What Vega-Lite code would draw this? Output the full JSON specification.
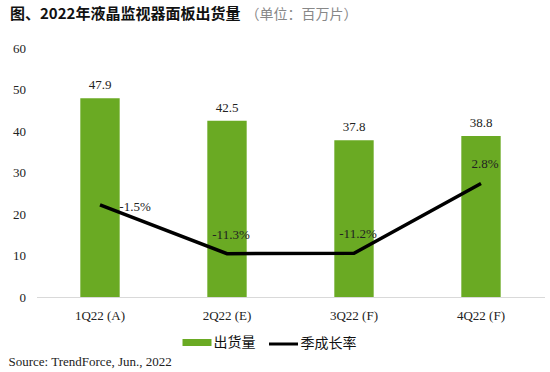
{
  "$schema": "https://vega.github.io/schema/vega-lite/v6.json",
  "width": 508,
  "height": 249,
  "autosize": {"type": "none"},
  "padding": {"left": 36.5, "top": 48, "right": 5.5, "bottom": 75},
  "background": "white",
  "config": {
    "view": {"stroke": null},
    "locale": {"number": {"decimal": ".", "thousands": ",", "grouping": [3], "currency": ["$", ""], "minus": "-"}}
  },
  "title": {
    "text": "图、2022年液晶监视器面板出货量",
    "anchor": "start",
    "frame": "group",
    "dx": -26.5,
    "offset": -22,
    "baseline": "middle",
    "font": "Noto Sans CJK SC",
    "fontSize": 15,
    "fontWeight": "bold",
    "color": "#111"
  },
  "data": {
    "values": [
      {"q": "1Q22 (A)", "shipment": 47.9, "growth": -0.015},
      {"q": "2Q22 (E)", "shipment": 42.5, "growth": -0.113},
      {"q": "3Q22 (F)", "shipment": 37.8, "growth": -0.112},
      {"q": "4Q22 (F)", "shipment": 38.8, "growth": 0.028}
    ]
  },
  "encoding": {
    "x": {
      "field": "q",
      "type": "nominal",
      "sort": null,
      "scale": {"paddingInner": 0.69, "paddingOuter": 0.345},
      "axis": {
        "title": "Source: TrendForce, Jun., 2022",
        "titleFont": "Liberation Serif",
        "titleFontSize": 13,
        "titleFontWeight": "normal",
        "titleColor": "#222",
        "titleAlign": "left",
        "titleBaseline": "middle",
        "titleAnchor": "start",
        "titleX": -28.5,
        "titleY": 64,
        "labelAngle": 0,
        "labelFont": "Liberation Serif",
        "labelFontSize": 13,
        "labelColor": "#222",
        "labelPadding": 12,
        "ticks": false,
        "domainColor": "#d9d9d9",
        "domainWidth": 1
      }
    }
  },
  "layer": [
    {
      "encoding": {
        "y": {
          "field": "shipment",
          "type": "quantitative",
          "scale": {"domain": [0, 60]},
          "axis": {
            "values": [0, 10, 20, 30, 40, 50, 60],
            "title": "（单位：百万片）",
            "titleAngle": 0,
            "titleAlign": "left",
            "titleBaseline": "middle",
            "titleX": 208.5,
            "titleY": -34,
            "titleFont": "Noto Sans CJK SC",
            "titleFontSize": 14,
            "titleFontWeight": "normal",
            "titleColor": "#888",
            "grid": false,
            "domain": false,
            "ticks": false,
            "labelFont": "Liberation Serif",
            "labelFontSize": 13,
            "labelColor": "#222",
            "labelPadding": 11
          }
        }
      },
      "layer": [
        {
          "mark": {"type": "bar", "color": "#6aaa23"},
          "encoding": {
            "fill": {
              "datum": "出货量",
              "type": "nominal",
              "scale": {"range": ["#6aaa23"]},
              "legend": {
                "orient": "none",
                "legendX": 146,
                "legendY": 280,
                "title": null,
                "padding": 0,
                "symbolType": "M-1,-0.24H1V0.24H-1Z",
                "symbolSize": 841,
                "symbolStrokeWidth": 0,
                "labelFont": "Noto Sans CJK SC",
                "labelFontSize": 14,
                "labelColor": "#111",
                "labelOffset": 2
              }
            }
          }
        },
        {
          "mark": {"type": "text", "dy": -13, "font": "Liberation Serif", "fontSize": 13, "color": "#222"},
          "encoding": {
            "text": {"field": "shipment", "type": "quantitative", "format": ".1f"}
          }
        }
      ]
    },
    {
      "encoding": {
        "y": {"field": "growth", "type": "quantitative", "scale": {"domain": [-0.2, 0.3]}, "axis": null}
      },
      "layer": [
        {
          "mark": {"type": "line", "strokeWidth": 3.5, "color": "black"},
          "encoding": {
            "stroke": {
              "datum": "季成长率",
              "type": "nominal",
              "scale": {"range": ["black"]},
              "legend": {
                "orient": "none",
                "legendX": 231,
                "legendY": 280,
                "title": null,
                "padding": 0,
                "symbolType": "stroke",
                "symbolSize": 841,
                "symbolStrokeWidth": 3,
                "labelFont": "Noto Sans CJK SC",
                "labelFontSize": 14,
                "labelColor": "#111",
                "labelOffset": 1
              }
            }
          }
        },
        {
          "transform": [{"filter": "datum.q === '1Q22 (A)'"}],
          "mark": {"type": "text", "dx": 35, "dy": 2, "font": "Liberation Serif", "fontSize": 13, "color": "#222"},
          "encoding": {
            "text": {"field": "growth", "type": "quantitative", "format": ".1%"}
          }
        },
        {
          "transform": [{"filter": "datum.q !== '1Q22 (A)'"}],
          "mark": {"type": "text", "dx": 4, "dy": -19, "font": "Liberation Serif", "fontSize": 13, "color": "#222"},
          "encoding": {
            "text": {"field": "growth", "type": "quantitative", "format": ".1%"}
          }
        }
      ]
    }
  ],
  "resolve": {"scale": {"y": "independent"}}
}
